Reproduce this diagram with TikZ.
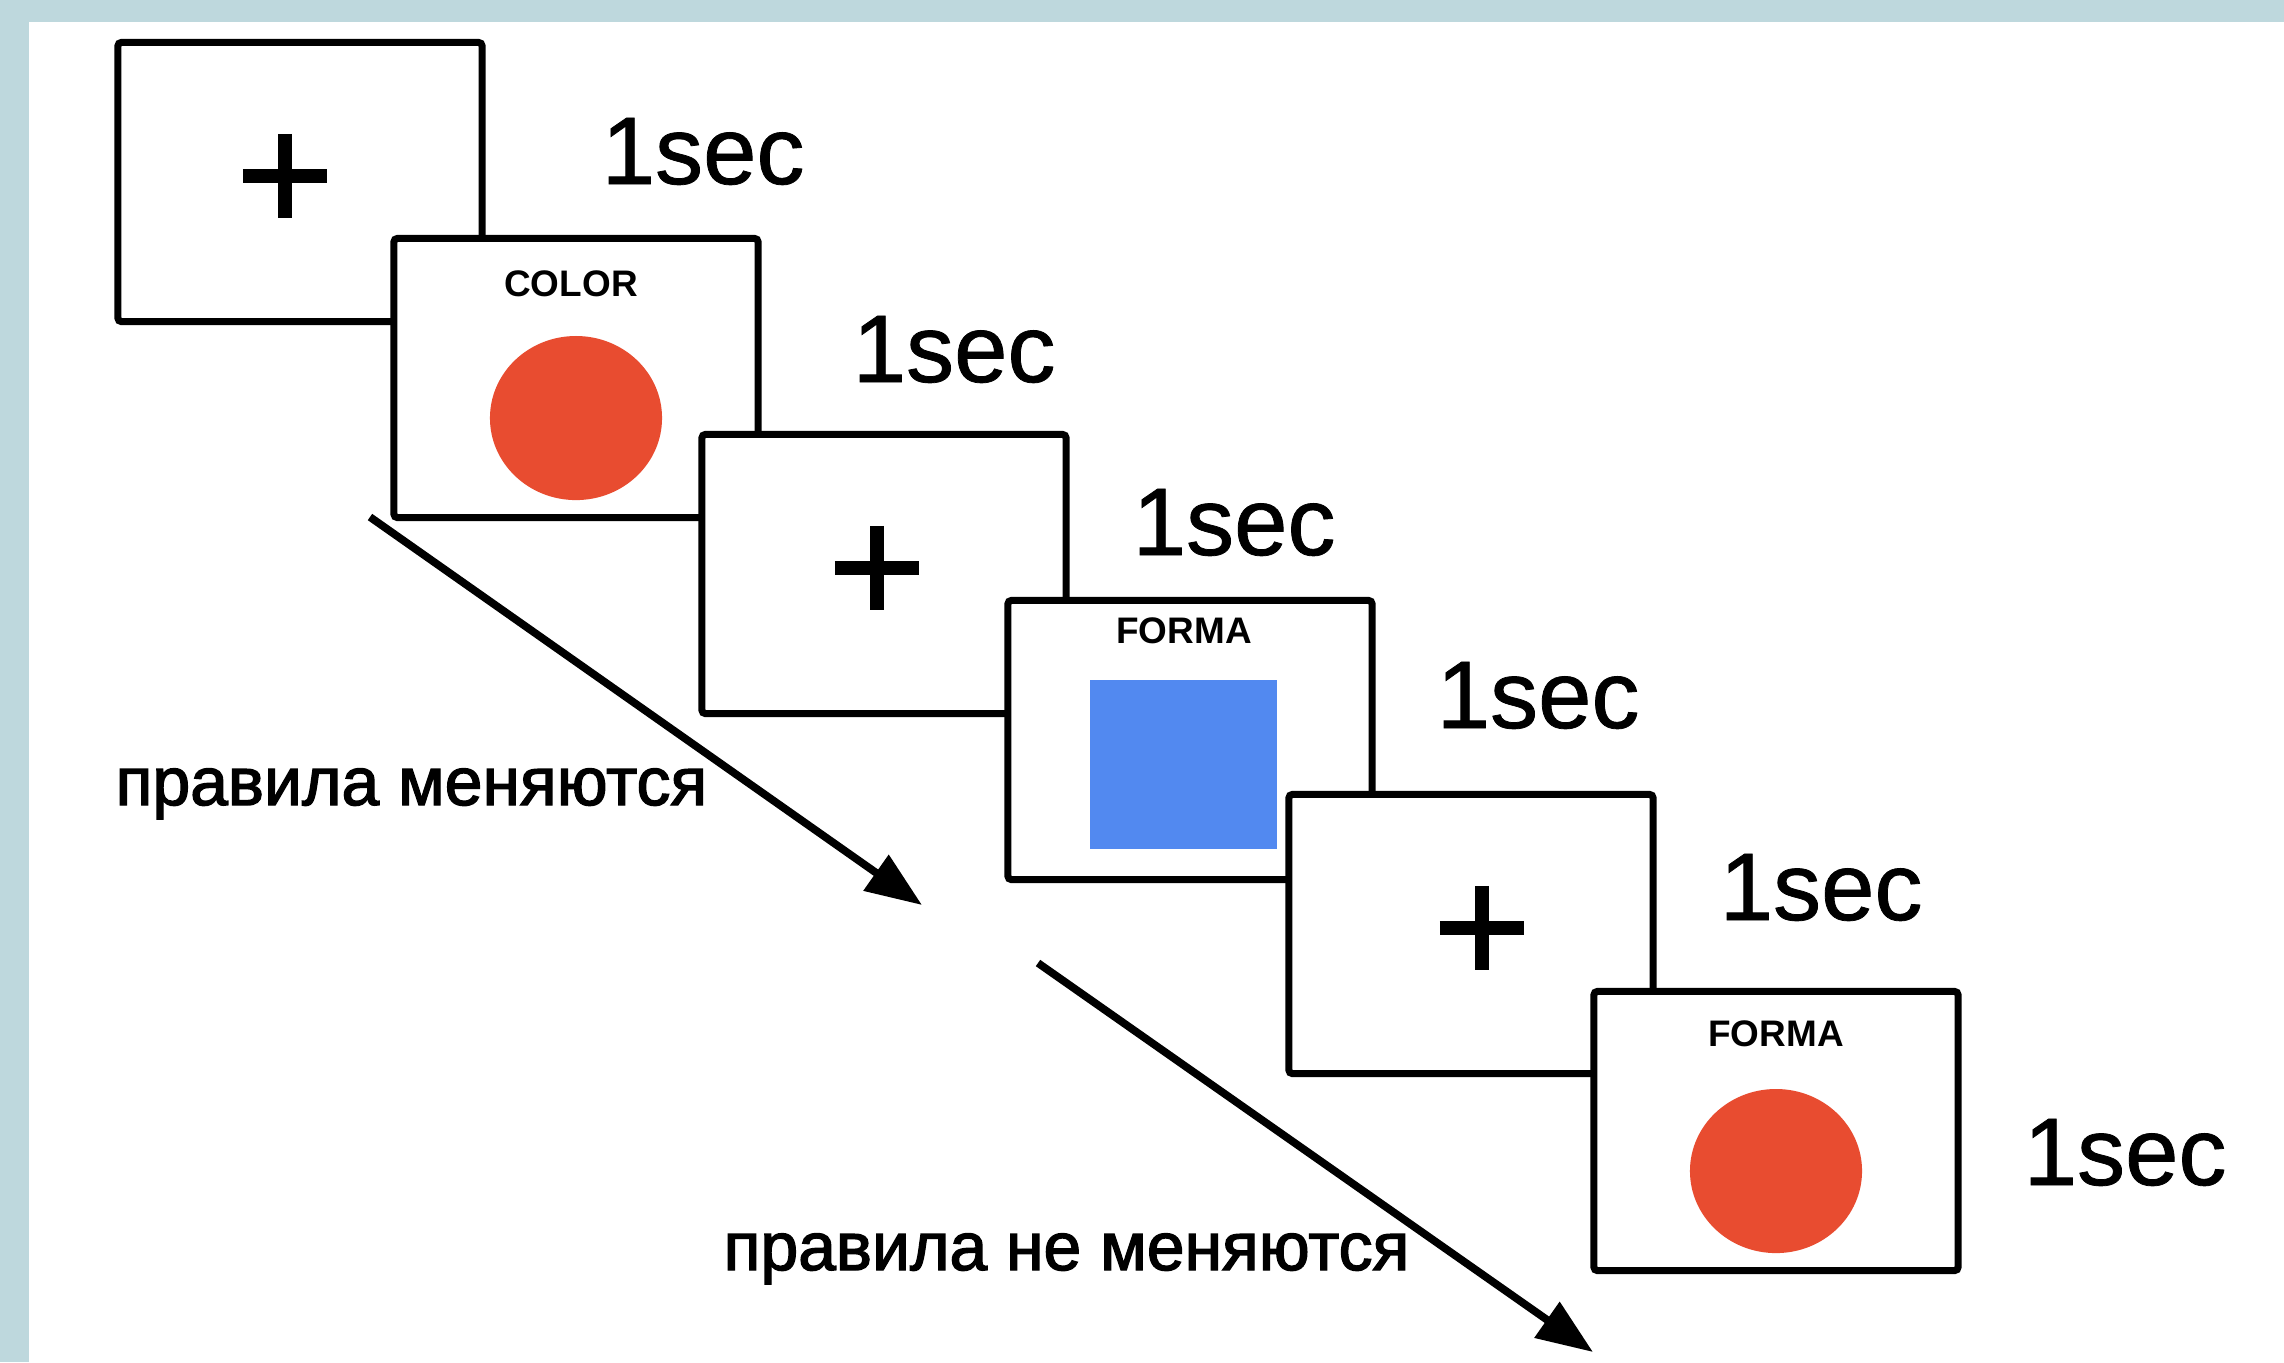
\documentclass[tikz,border=0pt]{standalone}
\usepackage{fontspec}
\setmainfont{Liberation Sans}
\newfontfamily\heavyfont{Liberation Sans}[FakeBold = 2]
\newfontfamily\secfont{Liberation Sans}[FakeBold = 0.8]
\usetikzlibrary{arrows.meta}
\definecolor{framecol}{RGB}{190,216,221}
\definecolor{dotred}{RGB}{232,76,48}
\definecolor{sqblue}{RGB}{82,137,240}

\begin{document}
\begin{tikzpicture}[x = 0.01cm, y = -0.01cm,
		screen/.style = {draw, line width = 2pt, fill = white, rounded corners = 1pt, minimum width = 3.64cm, minimum height = 2.79cm, inner sep = 0pt},
		dur/.style = {anchor = base west, inner sep = 0pt, font = \secfont\fontsize{27.3}{30}\selectfont},
		cue/.style = {inner sep = 0pt, font = \fontsize{10.5}{12}\selectfont\bfseries},
		rulelabel/.style = {anchor = base west, inner sep = 0pt, font = \heavyfont\fontsize{19.3}{22}\selectfont},
		fix/.style = {line width = 4pt},
		flow/.style = {line width = 2.2pt, -{Triangle[length = 16pt, width = 12pt]}}]
	\fill[framecol] (0, 0) rectangle (2284, 1362);
	\fill[white] (29, 22) rectangle (2284, 1362);
	
	\foreach \n/\x/\y in {1/300/182, 2/576/378, 3/884/574, 4/1190/740, 5/1471/934, 6/1776/1131} {
		\node[screen] (s\n) at (\x, \y) {};
	}
	
	\foreach \n/\dx in {1/-0.15, 3/-0.07, 5/0.11} {
		\draw[fix] ([xshift = \dx cm - 0.42cm, yshift = 0.06cm]s\n.center) -- ([xshift = \dx cm + 0.42cm, yshift = 0.06cm]s\n.center);
		\draw[fix] ([xshift = \dx cm, yshift = 0.48cm]s\n.center) -- ([xshift = \dx cm, yshift = -0.36cm]s\n.center);
	}
	
	\fill[dotred] ([yshift = -0.4cm]s2.center) ellipse [x radius = 0.86cm, y radius = 0.82cm];
	\fill[dotred] ([yshift = -0.4cm]s6.center) ellipse [x radius = 0.86cm, y radius = 0.82cm];
	\fill[sqblue] ([xshift = -1.0cm, yshift = 0.6cm]s4.center) rectangle ([xshift = 0.87cm, yshift = -1.09cm]s4.center);
	
	\node[cue] (c2) at ([xshift = -0.05cm, yshift = 0.94cm]s2.center) {COLOR};
	\node[cue] (c4) at ([xshift = -0.06cm, yshift = 1.09cm]s4.center) {FORMA};
	\node[cue] (c6) at ([yshift = 0.97cm]s6.center) {FORMA};
	
	\foreach \n/\x/\y in {1/601/184, 2/852/382, 3/1132/555, 4/1436/728, 5/1719/920, 6/2023/1185} {
		\node[dur] (d\n) at (\x, \y) {1sec};
	}
	
	\node[rulelabel] (chg) at (115, 805) {правила меняются};
	\node[rulelabel] (nochg) at (723, 1270) {правила не меняются};
	
	\coordinate (a1) at (370, 517);
	\coordinate (b1) at (922, 905);
	\coordinate (a2) at (1038, 963);
	\coordinate (b2) at (1593, 1352);
	\draw[flow] (a1) -- (b1);
	\draw[flow] (a2) -- (b2);
\end{tikzpicture}
\end{document}
